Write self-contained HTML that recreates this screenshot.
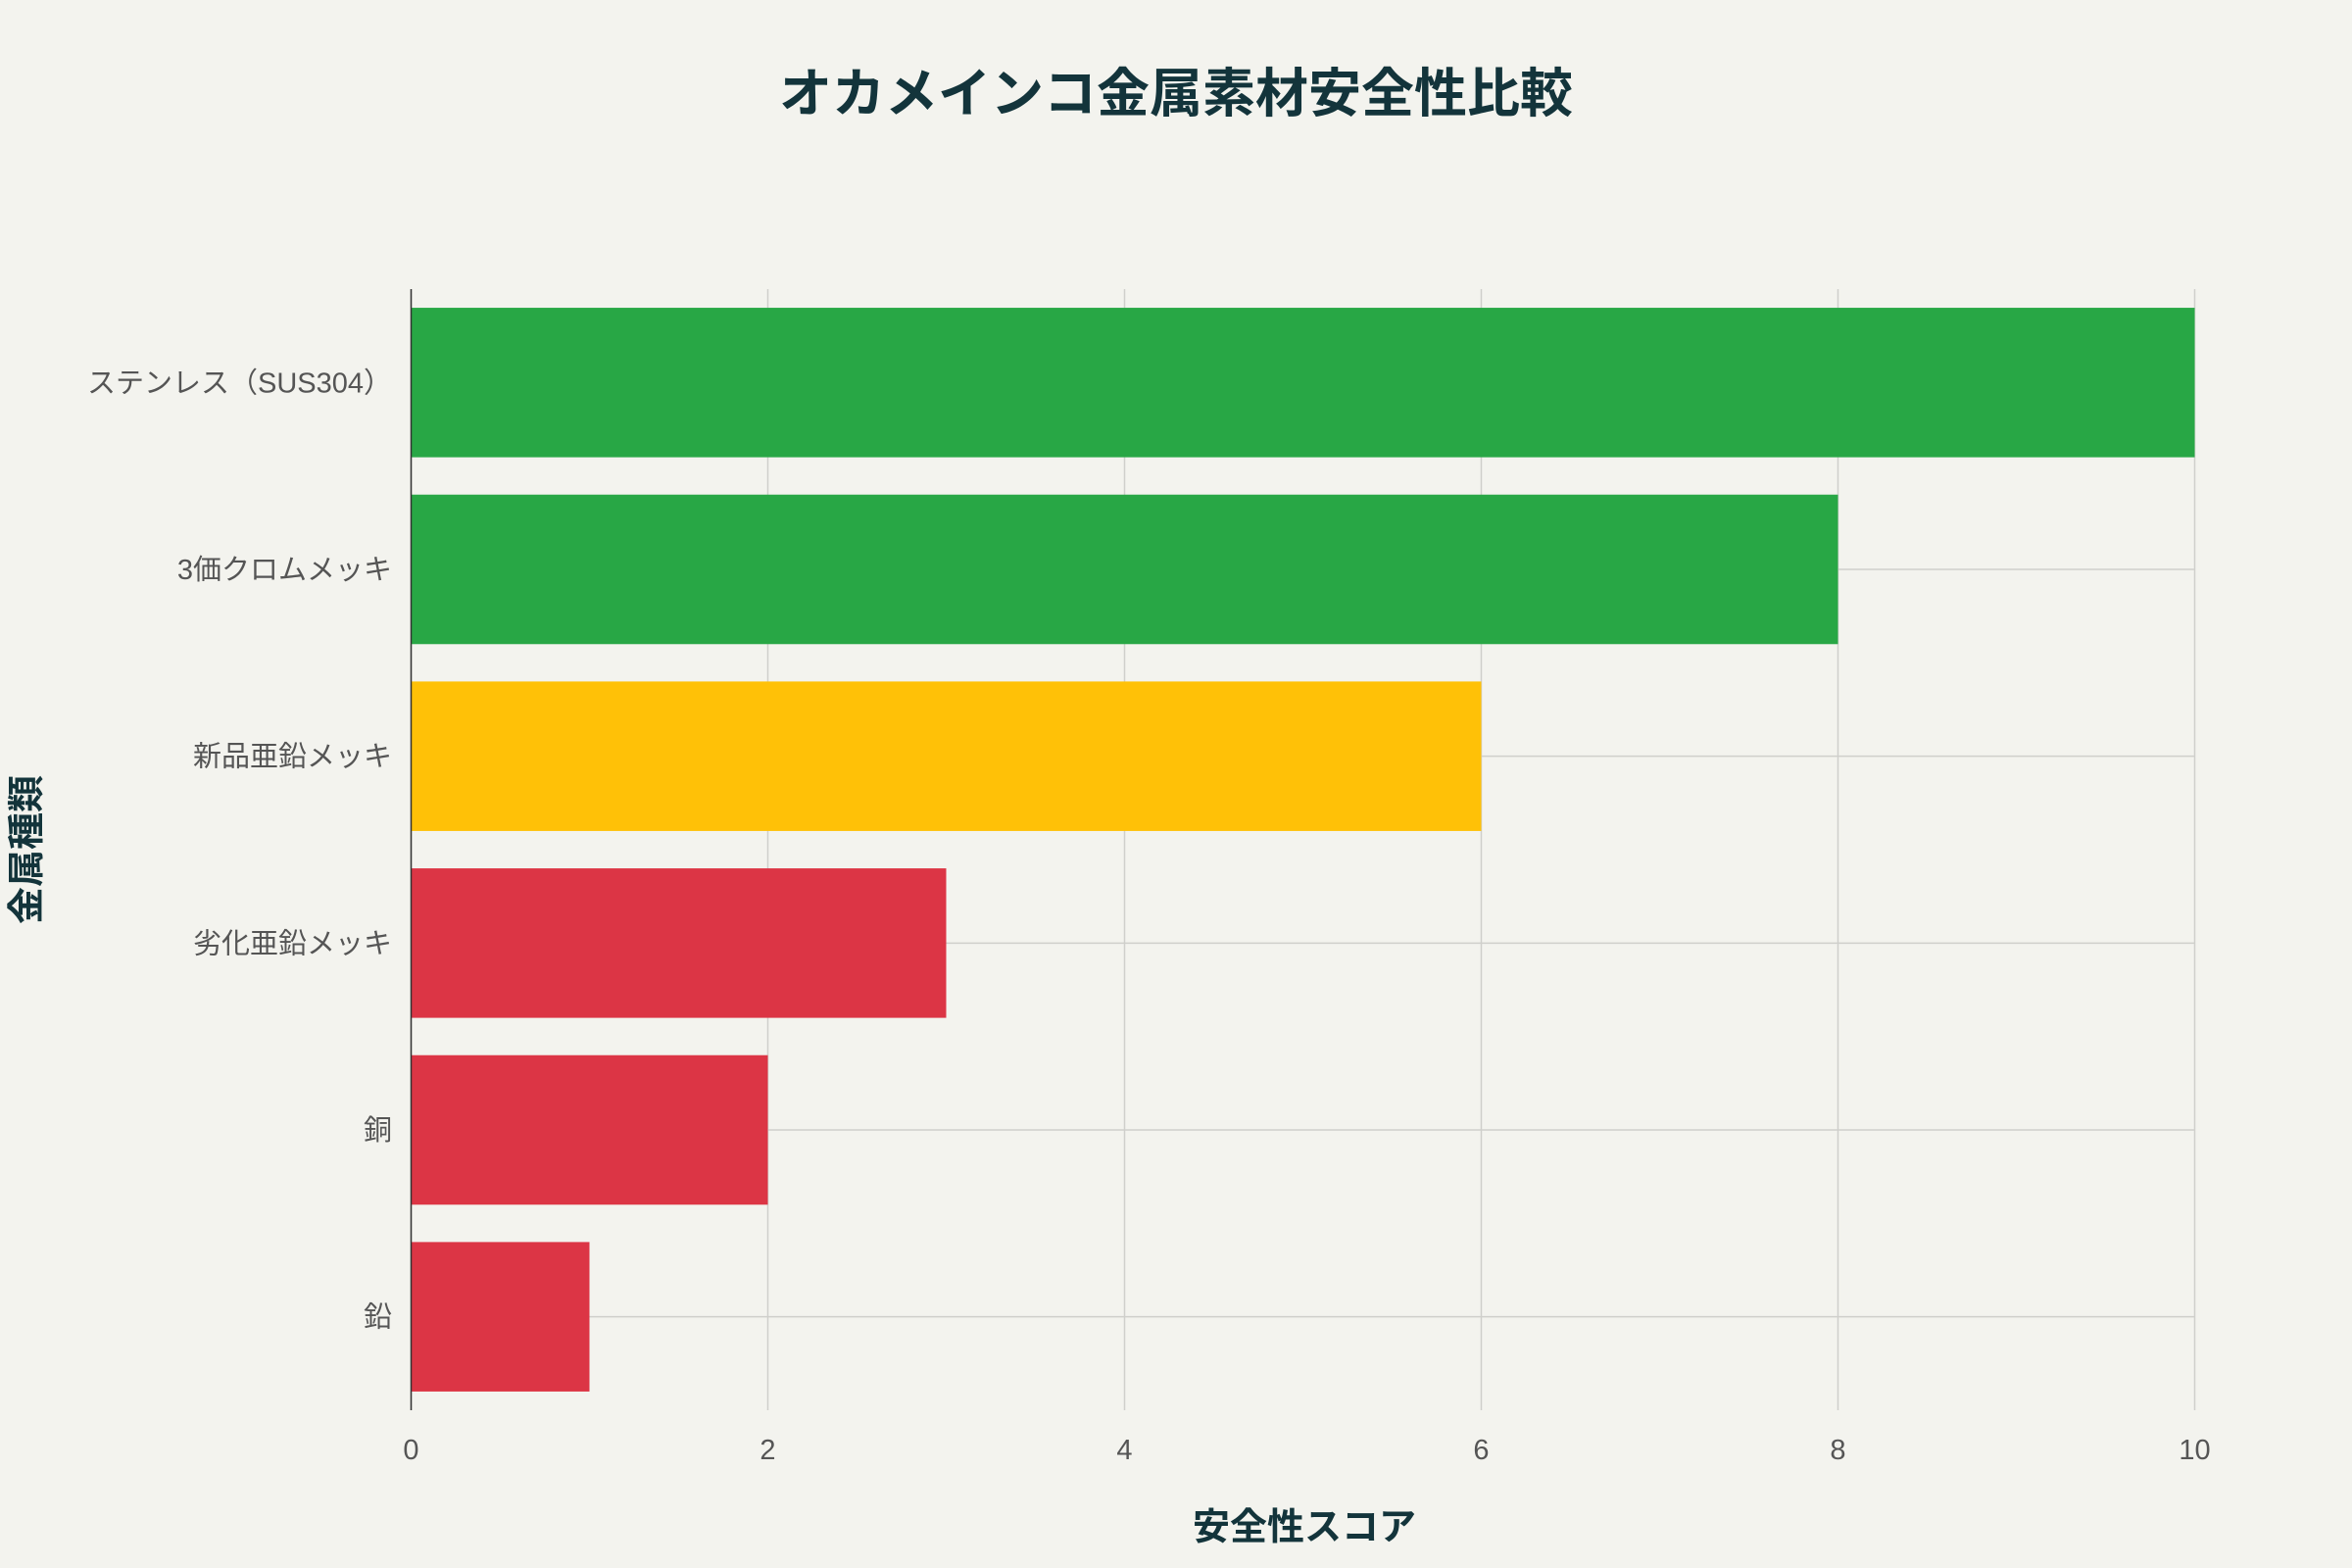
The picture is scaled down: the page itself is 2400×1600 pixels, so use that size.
<!DOCTYPE html>
<html><head><meta charset="utf-8">
<style>
html,body{margin:0;padding:0;background:#f3f3ee;}
svg{display:block;}
text{font-family:"Liberation Sans","Noto Sans CJK JP",sans-serif;}
</style></head>
<body>
<svg id="chart" width="2400" height="1600" viewBox="0 0 2400 1600" xmlns="http://www.w3.org/2000/svg">
<rect width="2400" height="1600" fill="#f3f3ee"/>
<text x="1200" y="114" text-anchor="middle" font-size="54" font-weight="bold" fill="#13343b">オカメインコ金属素材安全性比較</text>
<g id="grid"></g>
<g id="bars"></g>
<g id="yticks"></g>
<g id="xticks"></g>
<line x1="419.5" y1="295" x2="419.5" y2="1439" stroke="#333" stroke-width="1.5"/>
<text x="1331" y="1571" text-anchor="middle" font-size="38" font-weight="bold" fill="#13343b">安全性スコア</text>
<text transform="translate(40,867) rotate(-90)" text-anchor="middle" font-size="38" font-weight="bold" fill="#13343b">金属種類</text>
</svg>
<script>
const categories = ["ステンレス（SUS304）","3価クロムメッキ","新品亜鉛メッキ","劣化亜鉛メッキ","銅","鉛"];
const values = [10, 8, 6, 3, 2, 1];
const barColors = ["#28a745","#28a745","#ffc107","#dc3545","#dc3545","#dc3545"];
const xTicks = [0, 2, 4, 6, 8, 10];

const NS = "http://www.w3.org/2000/svg";
const x0 = 419.5, x1 = 2239.5, yTop = 295, yBot = 1439;
const xMax = 10;
function xScale(v){ return x0 + (x1 - x0) * v / xMax; }
const band = (yBot - yTop) / categories.length;
function yCenter(i){ return yTop + band * (i + 0.5); }
function mk(tag, attrs){ const e = document.createElementNS(NS, tag); for (const k in attrs) e.setAttribute(k, attrs[k]); return e; }

const grid = document.getElementById('grid');
xTicks.forEach(t => {
  const l = mk('line', {x1: xScale(t), x2: xScale(t), y1: yTop, y2: yBot, stroke: '#cfcfcb', 'stroke-width': 1.5});
  
  
  grid.appendChild(l);
});
categories.forEach((c, i) => {
  const l = mk('line', {x1: x0, x2: x1, y1: yCenter(i), y2: yCenter(i), stroke: '#cfcfcb', 'stroke-width': 1.5});
  
  
  grid.appendChild(l);
});

const bars = document.getElementById('bars');
const yt = document.getElementById('yticks');
const bh = band * 0.8;
categories.forEach((c, i) => {
  const r = mk('rect', {x: xScale(0), y: yCenter(i) - bh / 2, width: xScale(values[i]) - xScale(0), height: bh, fill: barColors[i]});
  
  
  bars.appendChild(r);
  const t = mk('text', {x: 400, y: yCenter(i) + 10, 'text-anchor': 'end', 'font-size': 29, fill: '#555'});
  t.textContent = c;
  
  
  yt.appendChild(t);
});

const xt = document.getElementById('xticks');
xTicks.forEach(v => {
  const t = mk('text', {x: xScale(v), y: 1489, 'text-anchor': 'middle', 'font-size': 29, fill: '#555'});
  t.textContent = v;
  
  
  xt.appendChild(t);
});
</script>
</body></html>
